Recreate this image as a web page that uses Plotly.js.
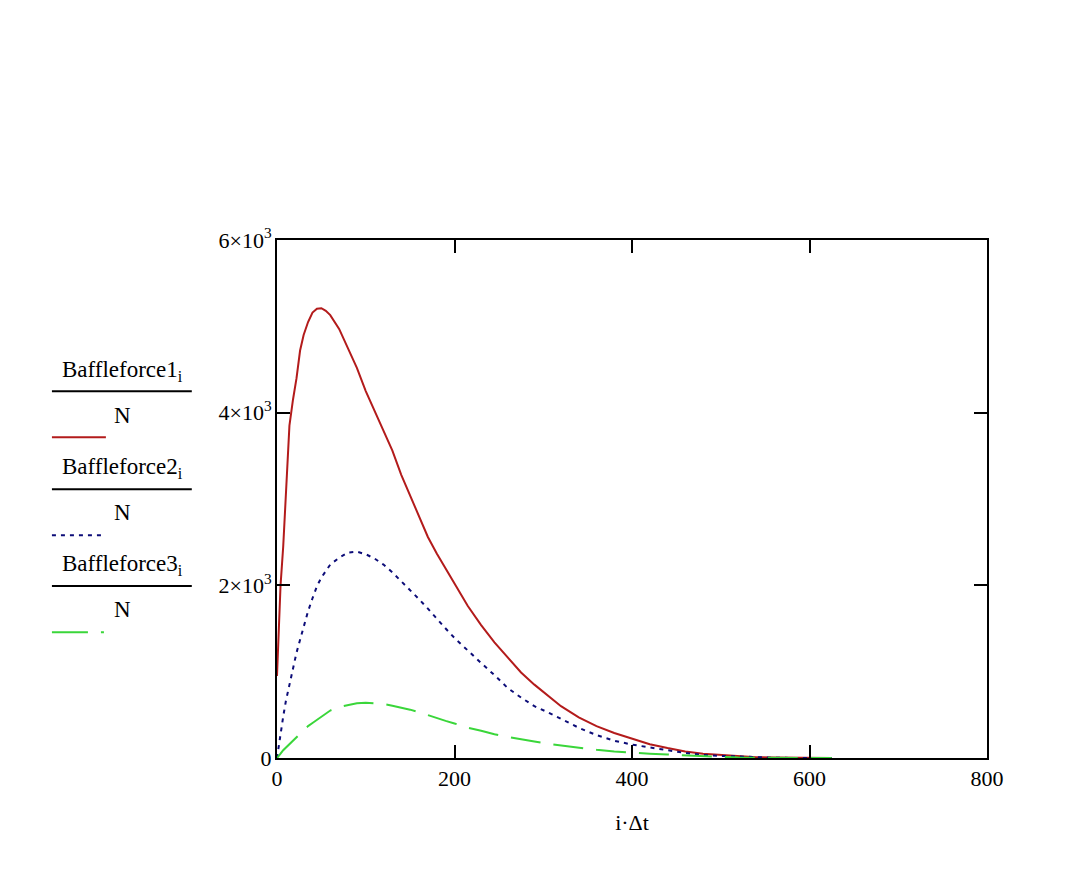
<!DOCTYPE html>
<html>
<head>
<meta charset="utf-8">
<script src="https://cdn.plot.ly/plotly-3.0.1.min.js"></script>
<style>
  html, body { margin: 0; padding: 0; background: #fff; }
  #graph { width: 1084px; height: 870px; }
</style>
</head>
<body>
<div id="graph"></div>
<script>
// time axis (i*dt) shared by the three series
var time = [0, 2, 4, 7, 10, 14, 18, 22, 26, 30, 35, 40, 45, 50, 55, 60, 70, 80, 90, 100,
            110, 120, 130, 140, 150, 160, 170, 180, 190, 200, 215, 230, 245, 260, 275, 290,
            305, 320, 340, 360, 380, 400, 420, 440, 460, 480, 500, 520, 540, 560, 580, 600, 625];

// Baffleforce1_i / N
var force1 = [950, 1500, 2000, 2450, 3100, 3850, 4150, 4400, 4720, 4900, 5050, 5160, 5205, 5210, 5180, 5130, 4970, 4750, 4520, 4250,
              4020, 3800, 3560, 3280, 3040, 2780, 2560, 2370, 2190, 2020, 1760, 1540, 1340, 1170, 990, 850,
              720, 600, 470, 370, 290, 225, 160, 115, 75, 50, 35, 22, 10, 5, 2, 0, 0];

// Baffleforce2_i / N
var force2 = [0, 150, 280, 480, 660, 840, 1050, 1220, 1370, 1520, 1700, 1850, 1990, 2090, 2170, 2240, 2320, 2380, 2390, 2360,
              2310, 2240, 2150, 2050, 1950, 1840, 1730, 1610, 1500, 1390, 1240, 1100, 960, 810, 700, 600,
              530, 450, 350, 265, 200, 155, 120, 90, 60, 35, 25, 15, 8, 3, 1, 0, 0];

// Baffleforce3_i / N
var force3 = [0, 20, 50, 90, 120, 170, 210, 250, 290, 330, 370, 405, 440, 480, 520, 550, 590, 615, 635, 640,
              635, 625, 605, 585, 560, 530, 495, 460, 430, 400, 350, 315, 275, 245, 215, 190,
              165, 145, 115, 95, 75, 60, 50, 40, 30, 20, 10, 5, 2, 0, 0, 0, 0];

var seriesNames = ['Baffleforce1', 'Baffleforce2', 'Baffleforce3'];
var seriesColors = ['#b31b1b', '#0c0c78', '#3ad63a'];
var seriesDash = ['solid', '4px,5px', '30px,13px'];
var legendDash = ['solid', '4px,5px', '36px,13px,3px,20px'];

var xTicks = [0, 200, 400, 600, 800];
var yTicks = [0, 2000, 4000, 6000];
var yTickText = ['0', '2×10<sup>3</sup>', '4×10<sup>3</sup>', '6×10<sup>3</sup>'];

var allValues = [force1, force2, force3];
var traces = allValues.map(function (vals, k) {
    return {
        x: time,
        y: vals,
        type: 'scatter',
        mode: 'lines',
        name: seriesNames[k],
        line: { color: seriesColors[k], width: 2, dash: seriesDash[k] },
        hoverinfo: 'skip'
    };
});

// Mathcad-style legend on the left: fraction text plus a line sample
var annotations = [];
var shapes = [];
var legendTop = [0.748, 0.559, 0.372]; // paper y of each numerator
seriesNames.forEach(function (nm, k) {
    var yTop = legendTop[k];
    annotations.push({
        xref: 'paper', yref: 'paper', x: -0.306, y: yTop,
        text: nm + '<sub>i</sub>', showarrow: false,
        xanchor: 'left', yanchor: 'middle',
        font: { family: 'Liberation Serif', size: 23, color: '#000' }
    });
    shapes.push({
        type: 'line', xref: 'paper', yref: 'paper',
        x0: -0.317, x1: -0.120, y0: yTop - 0.040, y1: yTop - 0.040,
        line: { color: '#000', width: 2 }
    });
    annotations.push({
        xref: 'paper', yref: 'paper', x: -0.217, y: yTop - 0.086,
        text: 'N', showarrow: false,
        xanchor: 'center', yanchor: 'middle',
        font: { family: 'Liberation Serif', size: 23, color: '#000' }
    });
    shapes.push({
        type: 'line', xref: 'paper', yref: 'paper',
        x0: -0.317, x1: -0.241, y0: yTop - 0.129, y1: yTop - 0.129,
        line: { color: seriesColors[k], width: 2, dash: legendDash[k] }
    });
});

var axisFont = { family: 'Liberation Serif', size: 22, color: '#000' };

var layout = {
    width: 1084,
    height: 870,
    margin: { l: 277, r: 97, t: 240, b: 112 },
    paper_bgcolor: '#fff',
    plot_bgcolor: '#fff',
    showlegend: false,
    xaxis: {
        range: [0, 800],
        tickvals: xTicks,
        ticktext: xTicks.map(String),
        ticks: 'inside',
        ticklen: 13,
        tickwidth: 2,
        tickcolor: '#000',
        showline: true,
        linecolor: '#000',
        linewidth: 2,
        mirror: 'ticks',
        showgrid: false,
        zeroline: false,
        tickfont: axisFont,
        title: { text: 'i·Δt', font: axisFont, standoff: 24 }
    },
    yaxis: {
        range: [0, 6000],
        tickvals: yTicks,
        ticktext: yTickText,
        ticks: 'inside',
        ticklen: 13,
        tickwidth: 2,
        tickcolor: '#000',
        showline: true,
        linecolor: '#000',
        linewidth: 2,
        mirror: 'ticks',
        showgrid: false,
        zeroline: false,
        ticklabelstandoff: -1,
        tickfont: axisFont
    },
    annotations: annotations,
    shapes: shapes
};

Plotly.newPlot('graph', traces, layout, { staticPlot: true });
</script>
</body>
</html>
